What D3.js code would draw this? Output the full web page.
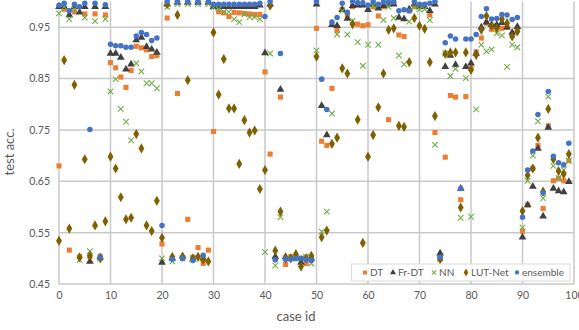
<!DOCTYPE html>
<html>
<head>
<meta charset="utf-8">
<script src="https://cdn.jsdelivr.net/npm/d3@7"></script>
<style>
  body { margin: 0; background: #fff; }
  text { font-family: Lato, "Liberation Sans", sans-serif; fill: #595959; }
</style>
</head>
<body>
<div id="chart"></div>
<script>
const caseIds = [0,1,2,3,4,5,6,7,8,9,10,11,12,13,14,15,16,17,18,19,
  20,21,22,23,24,25,26,27,28,29,30,31,32,33,34,35,36,37,38,39,
  40,41,42,43,44,45,46,47,48,49,50,51,52,53,54,55,56,57,58,59,
  60,61,62,63,64,65,66,67,68,69,70,71,72,73,74,75,76,77,78,79,
  80,81,82,83,84,85,86,87,88,89,90,91,92,93,94,95,96,97,98,99]

const dt = [0.680,0.985,0.516,0.980,0.503,0.976,0.503,0.976,0.504,0.974,
  0.881,0.871,0.853,0.833,0.866,0.913,0.910,0.906,0.893,0.895,
  0.528,0.968,0.500,0.821,0.500,0.576,0.502,0.521,0.490,0.516,
  0.747,0.980,0.978,0.971,0.979,0.978,0.977,0.976,0.975,0.975,
  0.863,0.703,0.500,0.814,0.488,0.503,0.503,0.500,0.490,0.500,
  0.948,0.728,0.720,0.831,0.944,0.985,0.971,0.990,0.956,0.953,
  0.955,0.990,0.972,0.990,0.770,0.997,0.935,0.932,0.982,0.990,
  0.990,0.990,0.974,0.745,0.500,0.697,0.817,0.814,0.614,0.815,
  0.871,0.902,0.929,0.958,0.946,0.953,0.948,0.950,0.935,0.945,
  0.553,0.604,0.675,0.720,0.597,0.758,0.651,0.656,0.651,0.690]

const frdt = [0.990,0.990,0.974,0.990,0.979,0.990,0.494,0.990,0.502,0.990,
  0.899,0.899,0.891,0.868,0.878,0.925,0.930,0.912,0.907,0.901,
  0.492,0.995,0.500,0.998,0.504,0.998,0.498,0.998,0.500,0.998,
  0.990,0.990,0.990,0.990,0.990,0.990,0.990,0.990,0.990,0.993,
  0.900,0.995,0.503,0.829,0.503,0.500,0.500,0.492,0.500,0.500,
  0.995,0.797,0.740,0.955,0.953,0.984,0.967,0.992,0.993,0.993,
  0.984,0.995,0.987,0.992,0.995,0.995,0.969,0.966,0.985,0.995,
  0.990,0.990,0.982,0.995,0.510,0.873,0.895,0.877,0.636,0.873,
  0.880,0.899,0.950,0.960,0.955,0.955,0.959,0.950,0.940,0.951,
  0.541,0.604,0.640,0.714,0.582,0.755,0.636,0.631,0.629,0.649]

const nn = [0.977,0.990,0.966,0.985,0.497,0.969,0.514,0.962,0.500,0.966,
  0.825,0.849,0.791,0.766,0.730,0.880,0.864,0.841,0.841,0.831,
  0.500,0.990,0.494,0.995,0.500,0.995,0.500,0.995,0.500,0.995,
  0.989,0.985,0.980,0.980,0.966,0.960,0.975,0.970,0.970,0.966,
  0.512,0.899,0.486,0.580,0.500,0.500,0.500,0.500,0.503,0.490,
  0.905,0.552,0.591,0.782,0.936,0.982,0.936,0.963,0.921,0.875,
  0.916,0.992,0.916,0.964,0.990,0.968,0.895,0.878,0.961,0.990,
  0.985,0.985,0.964,0.721,0.500,0.899,0.855,0.869,0.579,0.851,
  0.581,0.790,0.916,0.903,0.907,0.938,0.934,0.873,0.916,0.911,
  0.560,0.651,0.700,0.767,0.617,0.815,0.680,0.656,0.672,0.690]

const lutNet = [0.534,0.886,0.558,0.838,0.502,0.693,0.505,0.564,0.500,0.572,
  0.698,0.675,0.619,0.576,0.579,0.742,0.714,0.564,0.553,0.612,
  0.540,0.995,0.503,0.974,0.503,0.847,0.500,0.503,0.498,0.494,
  0.940,0.819,0.888,0.792,0.792,0.684,0.769,0.745,0.749,0.635,
  0.672,0.992,0.515,0.591,0.500,0.500,0.508,0.484,0.500,0.505,
  0.893,0.541,0.554,0.723,0.735,0.870,0.860,0.956,0.770,0.530,
  0.698,0.740,0.794,0.860,0.945,0.948,0.758,0.756,0.882,0.968,
  0.953,0.947,0.882,0.777,0.498,0.898,0.901,0.901,0.599,0.901,
  0.867,0.896,0.945,0.972,0.953,0.948,0.966,0.958,0.932,0.942,
  0.592,0.662,0.675,0.735,0.630,0.791,0.693,0.670,0.664,0.703]

const ensemble = [0.993,0.997,0.982,0.995,0.990,0.997,0.751,0.997,0.502,0.994,
  0.917,0.914,0.914,0.911,0.911,0.933,0.940,0.936,0.924,0.929,
  0.564,1.000,0.498,1.000,0.500,1.000,0.496,1.000,0.506,1.000,
  0.995,0.995,0.995,0.995,0.995,0.995,0.995,0.995,0.995,0.997,
  0.971,1.000,0.497,0.899,0.498,0.498,0.500,0.500,0.497,0.496,
  1.000,0.849,0.790,0.960,0.969,0.997,0.979,1.000,0.998,0.998,
  0.993,1.000,0.995,0.999,0.999,0.999,0.982,0.984,0.982,1.000,
  0.995,0.995,0.997,1.000,0.502,0.920,0.933,0.927,0.636,0.927,
  0.927,0.936,0.971,0.986,0.966,0.967,0.975,0.974,0.965,0.969,
  0.580,0.672,0.709,0.780,0.627,0.825,0.699,0.686,0.682,0.724]

const xTicks = [0,10,20,30,40,50,60,70,80,90,100]
const yTicks = [0.45,0.55,0.65,0.75,0.85,0.95]

const series = [
    {name: "DT", values: dt, color: "#ED7D31", shape: "square"},
    {name: "Fr-DT", values: frdt, color: "#404040", shape: "triangle"},
    {name: "NN", values: nn, color: "#70AD47", shape: "cross"},
    {name: "LUT-Net", values: lutNet, color: "#7F6000", shape: "diamond"},
    {name: "ensemble", values: ensemble, color: "#4472C4", shape: "circle"},
]

const width = 579
const height = 330
const plot = {left: 59, right: 574, top: 1.6, bottom: 284}

const x = d3.scaleLinear().domain([0, 100]).range([plot.left, plot.right])
const y = d3.scaleLinear().domain([0.45, 1.0]).range([plot.bottom, plot.top])

const svg = d3.select("#chart").append("svg")
    .attr("width", width)
    .attr("height", height)

// gridlines
const grid = svg.append("g").attr("stroke", "#c9c9c9").attr("stroke-width", 1.5)
grid.selectAll("line.h").data(yTicks).join("line")
    .attr("x1", plot.left).attr("x2", plot.right)
    .attr("y1", (d) => y(d)).attr("y2", (d) => y(d))
grid.selectAll("line.v").data(xTicks).join("line")
    .attr("x1", (d) => x(d)).attr("x2", (d) => x(d))
    .attr("y1", plot.top).attr("y2", plot.bottom)

// axes, labels only
const xAxis = svg.append("g")
    .attr("transform", `translate(0,${plot.bottom})`)
    .call(d3.axisBottom(x).tickValues(xTicks).tickSize(0).tickPadding(8))
xAxis.select(".domain").remove()
xAxis.selectAll("text").attr("font-size", 10.5).attr("fill", "#595959")
    .style("font-family", "Lato, sans-serif")

const yAxis = svg.append("g")
    .attr("transform", `translate(${plot.left},0)`)
    .call(d3.axisLeft(y).tickValues(yTicks).tickFormat(d3.format(".2f")).tickSize(0).tickPadding(9))
yAxis.select(".domain").remove()
yAxis.selectAll("text").attr("font-size", 10.5).attr("fill", "#595959")
    .style("font-family", "Lato, sans-serif")

svg.append("text")
    .attr("transform", "translate(14,152) rotate(-90)")
    .attr("text-anchor", "middle")
    .attr("font-size", 13)
    .text("test acc.")

svg.append("text")
    .attr("x", 296).attr("y", 321)
    .attr("text-anchor", "middle")
    .attr("font-size", 13)
    .text("case id")

function markerPath(shape, s) {
    if (shape === "square") return d3.symbol(d3.symbolSquare, 26 * s)()
    if (shape === "triangle") return d3.symbol(d3.symbolTriangle, 26 * s)()
    if (shape === "diamond") return d3.symbol(d3.symbolDiamond, 30 * s)()
    if (shape === "circle") return d3.symbol(d3.symbolCircle, 24 * s)()
    return d3.symbol(d3.symbolX, 22 * s)()
}

function styleMarker(sel, d) {
    if (d.shape === "cross") {
        sel.attr("fill", "none").attr("stroke", d.color).attr("stroke-width", 1.1)
    } else {
        sel.attr("fill", d.color).attr("stroke", "none")
    }
}

// points
for (let s of series) {
    const pts = caseIds.map((c, i) => ({c, v: s.values[i]})).filter((p) => p.v != null)
    const g = svg.append("g")
    g.selectAll("path").data(pts).join("path")
        .attr("transform", (p) => `translate(${x(p.c)},${y(p.v)})`)
        .attr("d", markerPath(s.shape, 1))
        .call(styleMarker, s)
}

// legend
const legend = svg.append("g")
legend.append("rect")
    .attr("x", 351.5).attr("y", 264).attr("width", 218.5).attr("height", 17)
    .attr("fill", "#fff").attr("stroke", "#d9d9d9")
const legendX = [365, 393, 434, 466, 517]
series.forEach((s, i) => {
    const item = legend.append("g").attr("transform", `translate(${legendX[i]},272.5)`)
    item.append("path").attr("d", markerPath(s.shape, 0.6)).call(styleMarker, s)
    item.append("text").attr("x", 5).attr("dy", "0.35em")
        .attr("font-size", 10).text(s.name)
})
</script>
</body>
</html>
